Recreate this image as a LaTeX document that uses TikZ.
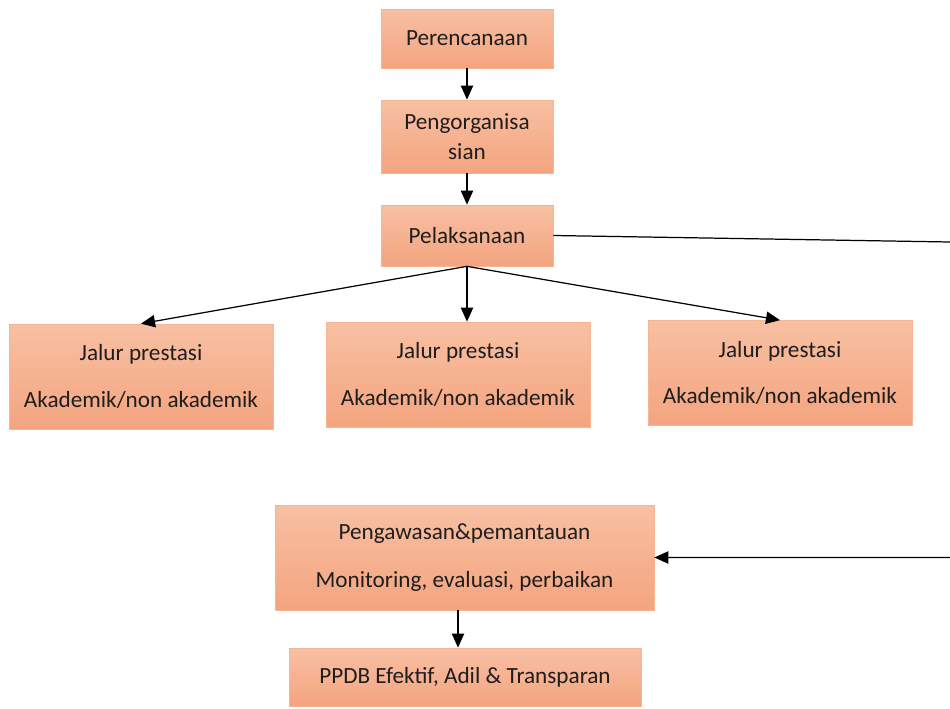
\documentclass[tikz,border=0pt]{standalone}
\usepackage{fontspec}
\setmainfont{Carlito}
\usetikzlibrary{arrows.meta}
\definecolor{salmontop}{HTML}{F8C0A3}
\definecolor{salmonbot}{HTML}{F4A47F}
\definecolor{salmonedge}{HTML}{F6B493}
\definecolor{textdark}{HTML}{1E1E1E}
\tikzset{
  box/.style={rectangle,top color=salmontop,bottom color=salmonbot,
    draw=salmonedge,text=textdark,align=center,inner sep=0pt,
    font=\fontsize{13.2}{17.5}\selectfont},
  link/.style={-{Triangle[length=8pt,width=7pt]},black,line width=0.7pt}
}

\begin{document}
\begin{tikzpicture}[x=0.02cm,y=-0.02cm]
  \useasboundingbox (0,0) rectangle (950,709);
  % alur utama
  \node[box,minimum width=3.44cm,minimum height=1.18cm] (rencana) at (467,38.5) {Perencanaan};
  \node[box,minimum width=3.44cm,minimum height=1.46cm] (organisasi) at (467,136.5) {Pengorganisa\\sian};
  \node[box,minimum width=3.44cm,minimum height=1.22cm] (laksana) at (467,235.5) {Pelaksanaan};
  % jalur
  \node[box,minimum width=5.28cm,minimum height=2.1cm] (jalur1) at (141,376.5)
    {Jalur prestasi\\[9pt]Akademik/non akademik};
  \node[box,minimum width=5.28cm,minimum height=2.1cm] (jalur2) at (458,374.5)
    {Jalur prestasi\\[9pt]Akademik/non akademik};
  \node[box,minimum width=5.28cm,minimum height=2.1cm] (jalur3) at (780,373)
    {Jalur prestasi\\[9pt]Akademik/non akademik};
  % pengawasan dan hasil
  \node[box,minimum width=7.58cm,minimum height=2.1cm] (awas) at (464.5,557.5)
    {Pengawasan\&pemantauan\\[10pt]Monitoring, evaluasi, perbaikan};
  \node[box,minimum width=7.04cm,minimum height=1.16cm] (ppdb) at (465,677)
    {PPDB Efektif, Adil \& Transparan};
  \coordinate (kananA) at (962,242.2);
  \coordinate (kananB) at (962,557.5);

  \draw[link] (rencana) -- (organisasi);
  \draw[link] (organisasi) -- (laksana);
  \draw[link] (laksana.south) -- (jalur1.north);
  \draw[link] (laksana.south) -- (laksana.south |- jalur2.north);
  \draw[link] (laksana.south) -- (jalur3.north);
  \draw[link] (laksana.east) -- (kananA) -- (kananB) -- (awas.east);
  \draw[link] ([xshift=-0.13cm]awas.south) -- ([xshift=-0.13cm]awas.south |- ppdb.north);
\end{tikzpicture}
\end{document}
